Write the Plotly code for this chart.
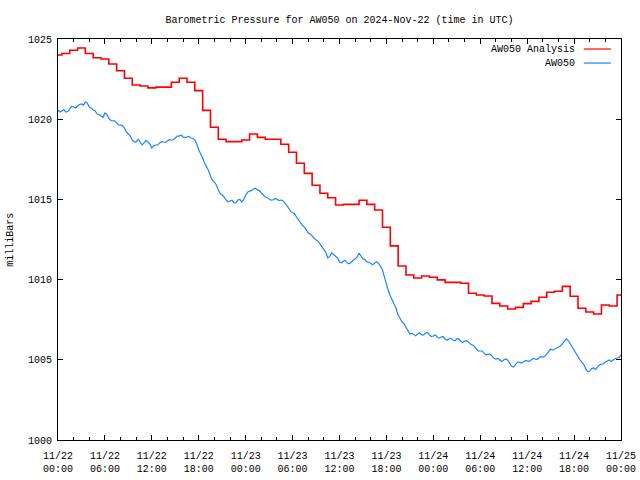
import pandas as pd
import plotly.graph_objects as go

# ---- data ----
start_time = "2024-11-22 00:00"
end_time = "2024-11-25 00:00"

# hourly analysis values (AW050 Analysis), 11/22 00:00 .. 11/25 00:00
analysis_p = [
    1024.00, 1024.10, 1024.30, 1024.44, 1024.10, 1023.83, 1023.75, 1023.44, 1023.02, 1022.55,
    1022.13, 1022.07, 1021.95, 1022.00, 1022.00, 1022.30, 1022.55, 1022.30, 1021.78, 1020.55,
    1019.50, 1018.75, 1018.60, 1018.60, 1018.70, 1019.08, 1018.87, 1018.75, 1018.75, 1018.44,
    1017.94, 1017.25, 1016.62, 1015.88, 1015.38, 1015.10, 1014.65, 1014.69, 1014.69, 1014.95,
    1014.69, 1014.34, 1013.26, 1012.10, 1010.85, 1010.29, 1010.10, 1010.22, 1010.15, 1009.98,
    1009.83, 1009.83, 1009.77, 1009.15, 1009.04, 1008.98, 1008.52, 1008.35, 1008.17, 1008.27,
    1008.50, 1008.64, 1008.90, 1009.21, 1009.27, 1009.58, 1008.96, 1008.21, 1007.98, 1007.86,
    1008.42, 1008.35, 1009.04,
]

# 15-minute station observations (AW050)
station_p = [
    1020.57, 1020.45, 1020.51, 1020.60, 1020.45, 1020.48, 1020.64, 1020.80, 1020.76, 1020.70,
    1020.82, 1020.92, 1020.95, 1020.88, 1021.07, 1021.00, 1020.76, 1020.70, 1020.57, 1020.52,
    1020.32, 1020.30, 1020.20, 1020.12, 1020.39, 1020.30, 1020.07, 1019.92, 1019.89, 1019.90,
    1019.76, 1019.65, 1019.64, 1019.60, 1019.45, 1019.20, 1019.08, 1018.95, 1018.70, 1018.60,
    1018.58, 1018.75, 1018.58, 1018.40, 1018.52, 1018.68, 1018.58, 1018.45, 1018.20, 1018.35,
    1018.39, 1018.40, 1018.52, 1018.60, 1018.58, 1018.55, 1018.64, 1018.72, 1018.70, 1018.72,
    1018.83, 1018.95, 1018.95, 1019.02, 1018.89, 1018.85, 1018.89, 1018.93, 1018.83, 1018.80,
    1018.70, 1018.45, 1018.08, 1017.85, 1017.58, 1017.25, 1017.02, 1016.80, 1016.46, 1016.20,
    1016.08, 1015.90, 1015.59, 1015.35, 1015.27, 1015.15, 1014.96, 1014.85, 1014.90, 1014.95,
    1014.78, 1014.80, 1014.96, 1015.00, 1014.84, 1015.00, 1015.27, 1015.45, 1015.52, 1015.55,
    1015.65, 1015.70, 1015.59, 1015.55, 1015.40, 1015.30, 1015.15, 1015.12, 1015.02, 1014.95,
    1014.96, 1015.05, 1015.02, 1014.92, 1014.96, 1014.92, 1014.78, 1014.65, 1014.46, 1014.25,
    1014.15, 1014.10, 1013.90, 1013.70, 1013.59, 1013.38, 1013.28, 1013.05, 1012.91, 1012.85,
    1012.72, 1012.55, 1012.47, 1012.40, 1012.22, 1012.00, 1011.85, 1011.70, 1011.35, 1011.45,
    1011.66, 1011.55, 1011.47, 1011.35, 1011.10, 1011.05, 1011.16, 1011.20, 1011.03, 1010.98,
    1011.10, 1011.22, 1011.28, 1011.40, 1011.66, 1011.50, 1011.28, 1011.25, 1011.10, 1011.08,
    1010.97, 1010.92, 1011.03, 1011.12, 1011.03, 1010.85, 1010.60, 1010.15, 1009.66, 1009.30,
    1008.98, 1008.70, 1008.48, 1008.20, 1007.79, 1007.55, 1007.36, 1007.25, 1007.04, 1006.80,
    1006.61, 1006.65, 1006.55, 1006.50, 1006.61, 1006.68, 1006.55, 1006.55, 1006.67, 1006.70,
    1006.55, 1006.45, 1006.48, 1006.55, 1006.42, 1006.35, 1006.42, 1006.45, 1006.30, 1006.22,
    1006.30, 1006.35, 1006.23, 1006.18, 1006.30, 1006.30, 1006.17, 1006.08, 1006.17, 1006.20,
    1006.11, 1005.98, 1005.92, 1005.85, 1005.67, 1005.55, 1005.55, 1005.55, 1005.42, 1005.30,
    1005.36, 1005.35, 1005.24, 1005.10, 1005.05, 1005.08, 1004.99, 1004.90, 1004.99, 1005.05,
    1004.99, 1004.78, 1004.61, 1004.55, 1004.74, 1004.85, 1004.86, 1004.80, 1004.86, 1004.95,
    1004.93, 1004.90, 1004.99, 1005.08, 1005.05, 1005.02, 1005.11, 1005.20, 1005.17, 1005.22,
    1005.36, 1005.55, 1005.67, 1005.60, 1005.67, 1005.78, 1005.80, 1005.85, 1005.99, 1006.12,
    1006.30, 1006.20, 1005.99, 1005.80, 1005.55, 1005.40, 1005.17, 1005.00, 1004.86, 1004.70,
    1004.43, 1004.25, 1004.30, 1004.45, 1004.49, 1004.40, 1004.55, 1004.68, 1004.74, 1004.75,
    1004.86, 1004.95, 1004.99, 1004.90, 1004.99, 1005.08, 1005.11, 1005.15, 1005.30,
]

x_tick_times = pd.date_range(start_time, end_time, freq="6h")
x_tick_labels = ["11/22<br>00:00", "11/22<br>06:00", "11/22<br>12:00", "11/22<br>18:00",
                 "11/23<br>00:00", "11/23<br>06:00", "11/23<br>12:00", "11/23<br>18:00",
                 "11/24<br>00:00", "11/24<br>06:00", "11/24<br>12:00", "11/24<br>18:00",
                 "11/25<br>00:00"]
y_ticks = [1000, 1005, 1010, 1015, 1020, 1025]

series_names = ["AW050 Analysis", "AW050"]
series_colors = ["#ff0000", "#1a85ff"]

analysis_t = pd.date_range(start_time, periods=len(analysis_p), freq="1h")
station_t = pd.date_range(start_time, periods=len(station_p), freq="15min")

FONT = "Liberation Mono, DejaVu Sans Mono, monospace"

fig = go.Figure()
fig.add_trace(go.Scatter(x=station_t, y=station_p, mode="lines",
                         line=dict(color=series_colors[1], width=1.2, shape="linear"),
                         name=series_names[1], showlegend=False))
fig.add_trace(go.Scatter(x=analysis_t, y=analysis_p, mode="lines",
                         line=dict(color=series_colors[0], width=1.6, shape="hvh"),
                         name=series_names[0], showlegend=False))

# legend drawn gnuplot-style: text then line sample
leg_y = [0.975, 0.940]
for name, color, ly in zip(series_names, series_colors, leg_y):
    fig.add_annotation(xref="paper", yref="paper", x=0.921, y=ly, text=name,
                       showarrow=False, xanchor="right", yanchor="middle",
                       font=dict(family=FONT, size=10, color="black"))
    fig.add_shape(type="line", xref="paper", yref="paper", x0=0.934, x1=0.982,
                  y0=ly, y1=ly, line=dict(color=color, width=1.2))

fig.add_annotation(xref="paper", yref="paper", x=-0.085, y=0.5, text="milliBars",
                   textangle=-90, showarrow=False, xanchor="center", yanchor="middle",
                   font=dict(family=FONT, size=10, color="black"))

fig.update_layout(
    width=640, height=480,
    margin=dict(l=58, r=19, t=39, b=40, autoexpand=False),
    paper_bgcolor="white", plot_bgcolor="white",
    font=dict(family=FONT, size=10, color="black"),
    title=dict(text="Barometric Pressure for AW050 on 2024-Nov-22 (time in UTC)",
               xref="paper", x=0.5, xanchor="center", y=1 - 19 / 480, yanchor="middle",
               font=dict(family=FONT, size=10, color="black")),
    showlegend=False,
)
fig.update_xaxes(
    type="date", range=[start_time, end_time], automargin=False,
    tickvals=x_tick_times, ticktext=x_tick_labels,
    showgrid=False, zeroline=False,
    showline=True, linecolor="black", linewidth=1, mirror="allticks",
    ticks="inside", ticklen=5, tickcolor="black", ticklabelstandoff=6,
    minor=dict(ticks="inside", ticklen=3, tickcolor="black", dtick=2 * 3600 * 1000, showgrid=False),
    tickfont=dict(family=FONT, size=10, color="black"),
)
fig.update_yaxes(
    range=[1000, 1025], tickvals=y_ticks, automargin=False,
    showgrid=False, zeroline=False,
    showline=True, linecolor="black", linewidth=1, mirror="allticks",
    ticks="inside", ticklen=5, tickcolor="black", ticklabelstandoff=3,
    tickfont=dict(family=FONT, size=10, color="black"),
)

fig.write_html("out.html")
